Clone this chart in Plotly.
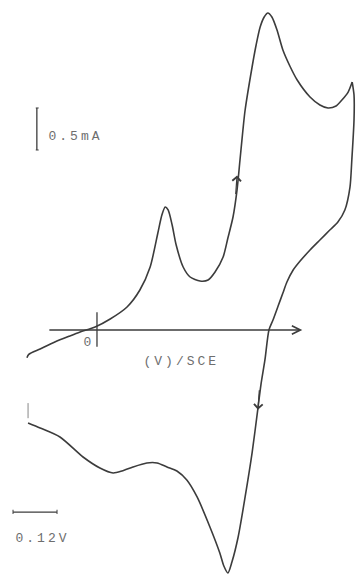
import plotly.graph_objects as go

# anodic (forward) sweep, potential in V vs SCE, current in mA
fwd_e = [-0.191, -0.186, -0.155, -0.115, -0.074, -0.046, -0.005, 0.036, 0.082, 0.117,
         0.145, 0.166, 0.177, 0.186, 0.194, 0.205, 0.216, 0.235, 0.254, 0.281,
         0.303, 0.322, 0.344, 0.357, 0.371, 0.382, 0.390, 0.398, 0.404, 0.423,
         0.434, 0.445, 0.456, 0.466, 0.477, 0.491, 0.507, 0.526, 0.546, 0.581,
         0.608, 0.630, 0.652, 0.668, 0.685, 0.696]
fwd_i = [-0.33, -0.29, -0.226, -0.143, -0.071, -0.024, 0.036, 0.131, 0.274, 0.476,
         0.750, 1.155, 1.369, 1.464, 1.429, 1.250, 1.012, 0.750, 0.631, 0.583,
         0.595, 0.690, 0.869, 1.095, 1.345, 1.667, 2.024, 2.381, 2.619, 3.131,
         3.393, 3.607, 3.726, 3.774, 3.726, 3.571, 3.333, 3.143, 2.976, 2.774,
         2.679, 2.643, 2.667, 2.738, 2.833, 2.952]

# cathodic (reverse) sweep
rev_e = [0.696, 0.701, 0.701, 0.695, 0.690, 0.676, 0.657, 0.635, 0.608, 0.581,
         0.554, 0.535, 0.518, 0.507, 0.494, 0.480, 0.469, 0.458, 0.447, 0.439,
         0.423, 0.404, 0.385, 0.368, 0.357, 0.346, 0.335, 0.308, 0.273, 0.245,
         0.218, 0.191, 0.164, 0.136, 0.098, 0.068, 0.044, 0.008, -0.038, -0.101,
         -0.155, -0.188]
rev_i = [2.952, 2.798, 2.500, 2.024, 1.702, 1.429, 1.286, 1.190, 1.071, 0.952,
         0.821, 0.714, 0.571, 0.440, 0.286, 0.119, 0.000, -0.357, -0.655, -0.929,
         -1.464, -1.988, -2.464, -2.762, -2.893, -2.810, -2.655, -2.345, -1.988, -1.786,
         -1.679, -1.631, -1.583, -1.583, -1.631, -1.679, -1.702, -1.643, -1.512, -1.274,
         -1.167, -1.107]

LINE = "#3c3c3c"
TEXT = "#6e6e6e"
FONT = dict(family="Liberation Mono, DejaVu Sans Mono, monospace", size=13, color=TEXT)

fig = go.Figure()
for xs, ys in [(fwd_e, fwd_i), (rev_e, rev_i)]:
    fig.add_trace(go.Scatter(x=xs, y=ys, mode="lines",
                             line=dict(color=LINE, width=1.6, shape="spline", smoothing=0.7),
                             hoverinfo="skip"))

# potential axis with arrow
fig.add_annotation(x=0.56, y=0, ax=-0.134, ay=0, xref="x", yref="y", axref="x", ayref="y",
                   text="", showarrow=True, arrowhead=5, arrowsize=1.3, arrowwidth=1.3,
                   arrowcolor=LINE)
# zero tick
fig.add_shape(type="line", x0=0, x1=0, y0=-0.20, y1=0.21, line=dict(color=LINE, width=1.3))
fig.add_annotation(x=-0.038, y=-0.15, text="0", showarrow=False, xanchor="left", font=FONT)
fig.add_annotation(x=0.150, y=-0.38, text="(V)/SCE", showarrow=False, xanchor="left", font=FONT)

# sweep direction arrows
fig.add_annotation(x=0.382, y=1.84, ax=0.378, ay=1.60, xref="x", yref="y", axref="x", ayref="y",
                   text="", showarrow=True, arrowhead=4, arrowsize=1.4, arrowwidth=1.2,
                   arrowcolor=LINE)
fig.add_annotation(x=0.439, y=-0.95, ax=0.443, ay=-0.70, xref="x", yref="y", axref="x", ayref="y",
                   text="", showarrow=True, arrowhead=4, arrowsize=1.4, arrowwidth=1.2,
                   arrowcolor=LINE)

# current scale bar 0.5 mA
fig.add_shape(type="line", x0=-0.164, x1=-0.164, y0=2.143, y1=2.643, line=dict(color=LINE, width=1.3))
fig.add_shape(type="line", x0=-0.167, x1=-0.159, y0=2.643, y1=2.643, line=dict(color=LINE, width=1))
fig.add_shape(type="line", x0=-0.167, x1=-0.159, y0=2.143, y1=2.143, line=dict(color=LINE, width=1))
fig.add_annotation(x=-0.117, y=2.30, text="0.5mA", showarrow=False, xanchor="left", font=FONT)

# potential scale bar 0.12 V
fig.add_shape(type="line", x0=-0.229, x1=-0.109, y0=-2.167, y1=-2.167, line=dict(color=LINE, width=1.2))
fig.add_shape(type="line", x0=-0.229, x1=-0.229, y0=-2.14, y1=-2.19, line=dict(color=LINE, width=1))
fig.add_shape(type="line", x0=-0.109, x1=-0.109, y0=-2.14, y1=-2.19, line=dict(color=LINE, width=1))
fig.add_annotation(x=-0.207, y=-2.48, text="0.12V", showarrow=False, xanchor="left", font=FONT)

# small pen mark at start of reverse trace
fig.add_shape(type="line", x0=-0.188, x1=-0.188, y0=-0.87, y1=-1.05, line=dict(color="#888", width=1))

fig.update_xaxes(range=[-0.2645, 0.7064], visible=False, fixedrange=True)
fig.update_yaxes(range=[-2.9167, 3.9286], visible=False, fixedrange=True)
fig.update_layout(width=356, height=575, margin=dict(l=0, r=0, t=0, b=0),
                  plot_bgcolor="white", paper_bgcolor="white", showlegend=False)

# typewriter look: page margin off, wide letter spacing on labels
js = ("document.body.style.margin='0';"
      "document.querySelectorAll('.annotation-text').forEach(function(t){"
      "t.style.letterSpacing='3px';});")
fig.write_html("out.html", post_script=js, config={"staticPlot": True})
